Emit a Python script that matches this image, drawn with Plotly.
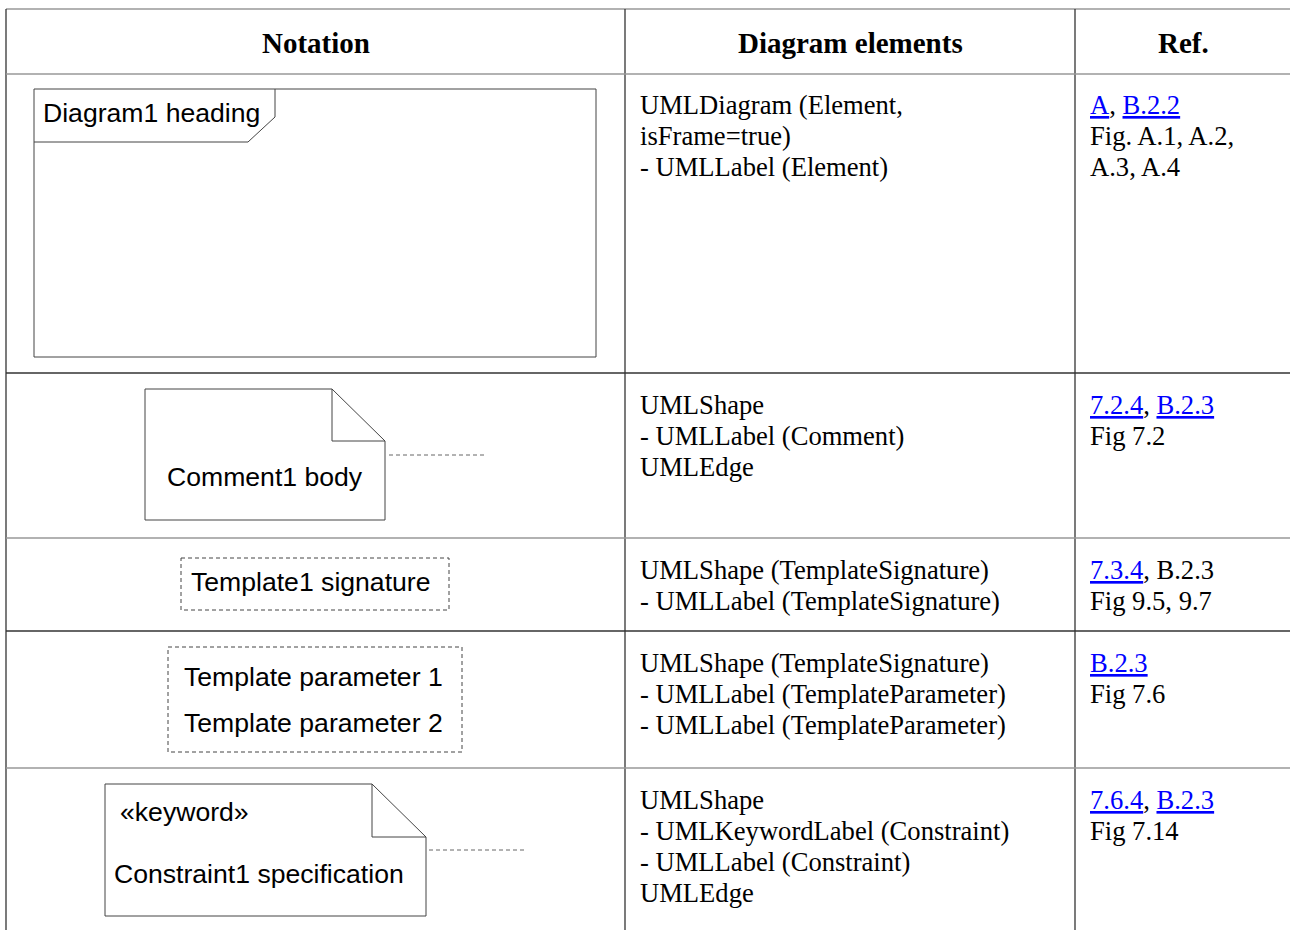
import plotly.graph_objects as go

# ---------------- data (table content) ----------------
header_labels = ["Notation", "Diagram elements", "Ref."]

element_lines = [
    ["UMLDiagram (Element,", "isFrame=true)", "- UMLLabel (Element)"],
    ["UMLShape", "- UMLLabel (Comment)", "UMLEdge"],
    ["UMLShape (TemplateSignature)", "- UMLLabel (TemplateSignature)"],
    ["UMLShape (TemplateSignature)", "- UMLLabel (TemplateParameter)", "- UMLLabel (TemplateParameter)"],
    ["UMLShape", "- UMLKeywordLabel (Constraint)", "- UMLLabel (Constraint)", "UMLEdge"],
]

# each ref line is a list of (text, is_link) pieces
ref_lines = [
    [[("A", True), (", ", False), ("B.2.2", True)], [("Fig. A.1, A.2,", False)], [("A.3, A.4", False)]],
    [[("7.2.4", True), (", ", False), ("B.2.3", True)], [("Fig 7.2", False)]],
    [[("7.3.4", True), (", B.2.3", False)], [("Fig 9.5, 9.7", False)]],
    [[("B.2.3", True)], [("Fig 7.6", False)]],
    [[("7.6.4", True), (", ", False), ("B.2.3", True)], [("Fig 7.14", False)]],
]

frame_heading = "Diagram1 heading"
comment_body = "Comment1 body"
template_signature = "Template1 signature"
template_params = ["Template parameter 1", "Template parameter 2"]
constraint_keyword = "«keyword»"
constraint_spec = "Constraint1 specification"

# ---------------- layout geometry ----------------
W, H = 1290, 930
SERIF = "Liberation Serif"
SANS = "Liberation Sans"
LINK = "#0000ff"
DARK = "#333333"
LIGHT = "#999999"
INK = "#444444"
DASH_C = "#666666"
DASH = "4px,3px"

table_left, table_top = 6, 9
col_x = [625, 1075]
row_y = [74, 373, 538, 631, 768]
light_rows = {74, 538, 768}
row_text_top = [105, 405, 570, 663, 800]
line_step = 31

shapes = []
ann = []


def line(x0, y0, x1, y1, color=INK, width=1, dash="solid"):
    shapes.append(dict(type="line", xref="x", yref="y", x0=x0, y0=y0, x1=x1, y1=y1,
                       line=dict(color=color, width=width, dash=dash)))


def path(points, color=INK, width=1, dash="solid", close=False):
    d = "M " + " L ".join(f"{x},{y}" for x, y in points)
    if close:
        d += " Z"
    shapes.append(dict(type="path", xref="x", yref="y", path=d,
                       line=dict(color=color, width=width, dash=dash), fillcolor="rgba(0,0,0,0)"))


def text(x, y, s, font=SERIF, size=26.6, anchor="left", color="black"):
    ann.append(dict(x=x, y=y, xref="x", yref="y", text=s, showarrow=False,
                    xanchor=anchor, yanchor="middle",
                    font=dict(family=font, size=size, color=color)))


# table grid
line(table_left, table_top, W + 5, table_top, color=LIGHT, width=1.6)
line(table_left, table_top, table_left, H + 5, color=DARK, width=1.3)
for cx in col_x:
    line(cx, table_top, cx, H + 5, color=DARK, width=1.3)
for ry in row_y:
    if ry in light_rows:
        line(table_left, ry, W + 5, ry, color=LIGHT, width=1.6)
    else:
        line(table_left, ry, W + 5, ry, color=DARK, width=1.3)

# header
header_centers = [316, 850, 1183]
for cx, lab in zip(header_centers, header_labels):
    text(cx, 43, f"<b>{lab}</b>", size=29, anchor="center")

# diagram elements & refs
for r in range(5):
    for i, s in enumerate(element_lines[r]):
        text(638, row_text_top[r] + i * line_step, s)
    for i, pieces in enumerate(ref_lines[r]):
        s = "".join(
            f"<span style='color:{LINK}'><u>{t}</u></span>" if lk else t for t, lk in pieces
        )
        text(1088, row_text_top[r] + i * line_step, s)

# row 1: diagram frame
path([(34, 89), (596, 89), (596, 357), (34, 357)], close=True)
path([(34, 142), (248, 142), (275, 117), (275, 89)])
text(41, 113, frame_heading, font=SANS)

# row 2: comment note
path([(145, 389), (332, 389), (385, 441), (385, 520), (145, 520)], close=True)
path([(332, 389), (332, 441), (385, 441)])
line(389, 455, 485, 455, color=DASH_C, dash=DASH)
text(265, 477, comment_body, font=SANS, anchor="center")

# row 3: template signature
path([(181, 558), (449, 558), (449, 610), (181, 610)], close=True, color="#444444", dash=DASH)
text(189, 582, template_signature, font=SANS)

# row 4: template parameters
path([(168, 647), (462, 647), (462, 752), (168, 752)], close=True, color="#444444", dash=DASH)
for i, s in enumerate(template_params):
    text(182, 677 + i * 46, s, font=SANS)

# row 5: constraint note
path([(105, 784), (372, 784), (426, 837), (426, 916), (105, 916)], close=True)
path([(372, 784), (372, 837), (426, 837)])
line(429, 850, 526, 850, color=DASH_C, dash=DASH)
text(118, 812, constraint_keyword, font=SANS)
text(112, 874, constraint_spec, font=SANS)

fig = go.Figure()
fig.update_layout(
    width=W, height=H,
    margin=dict(l=0, r=0, t=0, b=0),
    paper_bgcolor="white", plot_bgcolor="white",
    xaxis=dict(range=[0, W], visible=False, fixedrange=True),
    yaxis=dict(range=[H, 0], visible=False, fixedrange=True),
    shapes=shapes, annotations=ann, showlegend=False,
)
fig.write_html(
    "out.html",
    config={"displayModeBar": False},
    post_script="document.body.style.margin='0px';document.body.style.overflow='hidden';",
)
